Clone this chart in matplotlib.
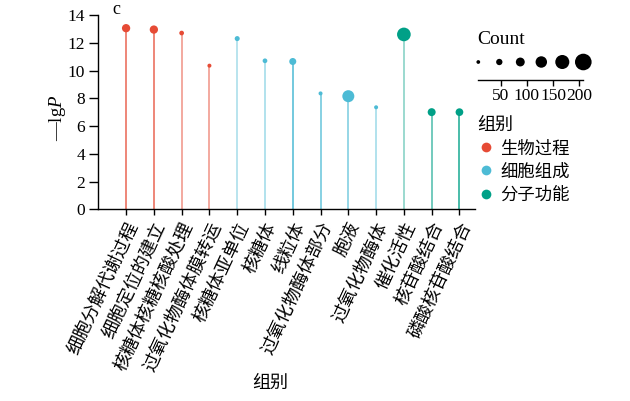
import matplotlib
matplotlib.use("Agg")
from matplotlib import pyplot as plt
from matplotlib.lines import Line2D
import numpy as np

plt.rcParams['font.family'] = ['Liberation Serif', 'Noto Sans CJK SC']
plt.rcParams['mathtext.fontset'] = 'custom'
plt.rcParams['mathtext.rm'] = 'Liberation Serif'
plt.rcParams['mathtext.it'] = 'Liberation Serif:italic'
plt.rcParams['axes.unicode_minus'] = True

# data
terms = ["细胞分解代谢过程", "细胞定位的建立", "核糖体核糖核酸处理", "过氧化物酶体膜转运",
         "核糖体亚单位", "核糖体", "线粒体", "过氧化物酶体部分", "胞液",
         "过氧化物酶体", "催化活性", "核苷酸结合", "磷酸核苷酸结合"]
groups = ["生物过程"] * 4 + ["细胞组成"] * 6 + ["分子功能"] * 3
neg_lg_p = [13.05, 12.95, 12.7, 10.35, 12.3, 10.7, 10.65, 8.35, 8.15, 7.35, 12.6, 7.0, 7.0]
counts = [78, 78, 22, 11, 27, 22, 58, 11, 136, 11, 162, 73, 69]
group_names = ["生物过程", "细胞组成", "分子功能"]
count_legend = np.linspace(7, 208, 6)
count_ticks = [50, 100, 150, 200]

palette = {"生物过程": "#E64B35", "细胞组成": "#4DBBD5", "分子功能": "#00A087"}
stem_alpha = [0.85, 0.85, 0.6, 0.6, 0.5, 0.55, 1.0, 0.85, 0.75, 0.55, 0.5, 0.7, 0.9]


def marker_area(c):
    d_px = 3.3 + 0.064 * np.asarray(c, dtype=float)
    return (d_px * 0.72) ** 2


W, H = 630, 401
fig = plt.figure(figsize=(6.3, 4.01), dpi=100)
ax = fig.add_axes([98.3 / W, 1 - 209.3 / H, 376.7 / W, 194.3 / H])

x = np.arange(len(terms))
cols = [palette[g] for g in groups]
for xi, yi, c, a in zip(x, neg_lg_p, cols, stem_alpha):
    ax.vlines(xi, 0, yi, color=c, alpha=a, lw=1.1, zorder=2)
ax.scatter(x, neg_lg_p, s=marker_area(counts), c=cols, linewidths=0, zorder=3)

ax.set_xlim(-1, 12.56)
ax.set_ylim(0, 14)
ax.set_yticks(range(0, 15, 2))
ax.set_xticks(x)
ax.set_xticklabels(terms, rotation=65, ha='right', va='top', rotation_mode='anchor', fontsize=13)
ax.tick_params(axis='y', labelsize=12.5, length=6.5, width=1, pad=3)
ax.tick_params(axis='x', length=4.5, width=1, pad=3)
for s in ['top', 'right']:
    ax.spines[s].set_visible(False)
for s in ['left', 'bottom']:
    ax.spines[s].set_linewidth(1)
ax.set_ylabel("\u2014lg$P$", fontsize=13.5)
ax.yaxis.set_label_coords((57 - 98.3) / 376.7, (209.3 - 118) / 194.3)
ax.yaxis.label.set_va('center')
ax.set_xlabel("组别", fontsize=13)
ax.xaxis.set_label_coords((270 - 98.3) / 376.7, (209.3 - 383) / 194.3)
ax.xaxis.label.set_va('center')

fig.text(112 / W, 1 - 9 / H, "c", fontsize=13, va='center')

# size legend
fig.text(477 / W, 1 - 40 / H, "Count", fontsize=14, va='center')
sax = fig.add_axes([478.3 / W, 1 - 80 / H, 105 / W, 30 / H])
sax.set_xlim(7, 208)
sax.set_ylim(0, 1)
sax.scatter(count_legend, [0.6] * len(count_legend), s=marker_area(count_legend),
            c='black', linewidths=0, clip_on=False)
sax.set_xticks(count_ticks)
sax.set_yticks([])
for s in ['top', 'right', 'left']:
    sax.spines[s].set_visible(False)
sax.spines['bottom'].set_linewidth(1)
sax.tick_params(axis='x', labelsize=12.5, length=4, width=1, pad=2)
sax.patch.set_alpha(0)

# colour legend
handles = [Line2D([], [], ls='none', marker='o', ms=7, mec='none', mfc=palette[g])
           for g in group_names]
fig.legend(handles, group_names, title="组别", loc='upper left',
           bbox_to_anchor=(470 / W, 1 - 110 / H), frameon=False, fontsize=12.5,
           title_fontsize=13, handletextpad=0.35, handlelength=1.0,
           labelspacing=0.4, borderaxespad=0, alignment='left')

fig.savefig("out.png", dpi=100)
